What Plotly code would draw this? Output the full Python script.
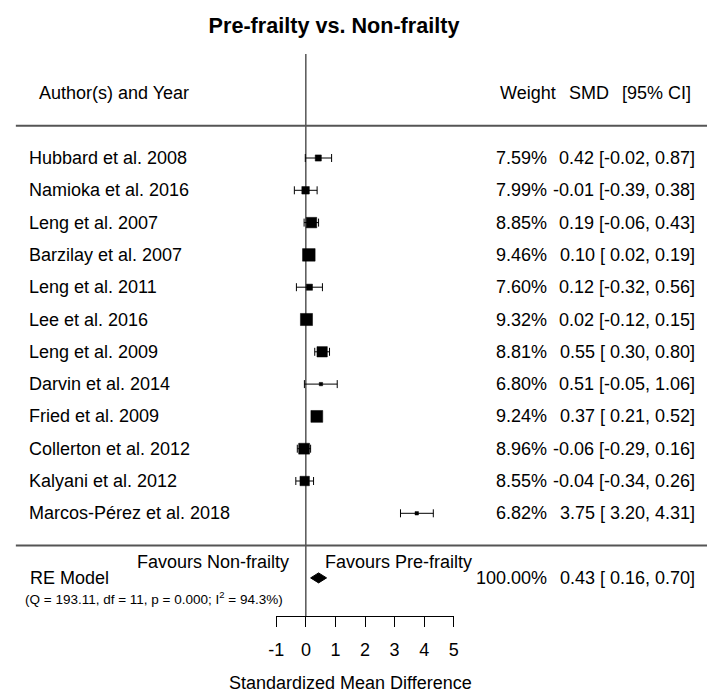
import plotly.graph_objects as go

# ---------------- data ----------------
studies = ["Hubbard et al. 2008", "Namioka et al. 2016", "Leng et al. 2007",
           "Barzilay et al. 2007", "Leng et al. 2011", "Lee et al. 2016",
           "Leng et al. 2009", "Darvin et al. 2014", "Fried et al. 2009",
           "Collerton et al. 2012", "Kalyani et al. 2012", "Marcos-Pérez et al. 2018"]
weights = [7.59, 7.99, 8.85, 9.46, 7.60, 9.32, 8.81, 6.80, 9.24, 8.96, 8.55, 6.82]
smd = [0.42, -0.01, 0.19, 0.10, 0.12, 0.02, 0.55, 0.51, 0.37, -0.06, -0.04, 3.75]
ci_low = [-0.02, -0.39, -0.06, 0.02, -0.32, -0.12, 0.30, -0.05, 0.21, -0.29, -0.34, 3.20]
ci_high = [0.87, 0.38, 0.43, 0.19, 0.56, 0.15, 0.80, 1.06, 0.52, 0.16, 0.26, 4.31]

re_label = "RE Model"
re_weight = 100.00
re_est = 0.43
re_low = 0.16
re_high = 0.70
re_stats = "(Q = 193.11, df = 11, p = 0.000; I<sup>2</sup> = 94.3%)"

tick_vals = [-1, 0, 1, 2, 3, 4, 5]
tick_labels = ["-1", "0", "1", "2", "3", "4", "5"]

title = "Pre-frailty vs. Non-frailty"
x_title = "Standardized Mean Difference"
left_header = "Author(s) and Year"
favours_left = "Favours Non-frailty"
favours_right = "Favours Pre-frailty"

# ---------------- layout helpers ----------------
W, H = 712, 697
FONT = "Liberation Sans, Arial, Helvetica, sans-serif"
FS = 18
ROW0_PX, ROW_PX = 158.0, 32.3   # pixel centre of first row, row spacing


def px(xp):
    return xp / W


def ypaper(yp):
    return 1 - yp / H


rows = list(range(len(studies)))
re_row = len(studies) + 1

wmin, wmax = min(weights), max(weights)
sizes = [3.4 + (w - wmin) / (wmax - wmin) * 9.2 for w in weights]

fig = go.Figure()

# confidence intervals (error bars only)
fig.add_trace(go.Scatter(
    x=smd, y=rows, mode="markers",
    marker=dict(size=1, color="rgba(0,0,0,0)", opacity=1),
    error_x=dict(type="data", symmetric=False,
                 array=[h - e for h, e in zip(ci_high, smd)],
                 arrayminus=[e - l for e, l in zip(smd, ci_low)],
                 color="black", thickness=1, width=4),
    showlegend=False, hoverinfo="skip", cliponaxis=False,
))

# study point estimates (squares on top of the CI lines)
fig.add_trace(go.Scatter(
    x=smd, y=rows, mode="markers",
    marker=dict(symbol="square", size=sizes, color="black", opacity=1,
                line=dict(width=0.5, color="black")),
    showlegend=False, hoverinfo="skip", cliponaxis=False,
))

# RE model diamond
dh = 5 / ROW_PX
fig.add_trace(go.Scatter(
    x=[re_low, re_est, re_high, re_est, re_low],
    y=[re_row, re_row - dh, re_row, re_row + dh, re_row],
    mode="lines", fill="toself", fillcolor="black",
    line=dict(color="black", width=1), showlegend=False, hoverinfo="skip",
    cliponaxis=False,
))

annotations = []


def txt(text, xp, row, anchor, size=FS):
    annotations.append(dict(
        text=text,
        x=px(xp), xref="paper", y=row, yref="y",
        xanchor=anchor, yanchor="middle", showarrow=False,
        font=dict(family=FONT, size=size, color="black"),
    ))


# headers
txt(left_header, 30, -2, "left")
txt("Weight", 560, -2, "right")
txt("SMD", 569, -2, "left")
txt("[95% CI]", 698, -2, "right")

# study rows
for r, s, w, e, lo, hi in zip(rows, studies, weights, smd, ci_low, ci_high):
    txt(s, 19, r, "left")
    txt(f"{w:.2f}%", 551, r, "right")
    txt(f"{e:.2f} [{lo:5.2f}, {hi:.2f}]".replace("[ ", "[\u00a0"), 702, r, "right")

# RE row
txt(favours_left, 288, re_row - 0.5, "right")
txt(favours_right, 321, re_row - 0.5, "left")
txt(re_label, 20, re_row, "left")
txt(f"{re_weight:.2f}%", 551, re_row, "right")
txt(f"{re_est:.2f} [{re_low:5.2f}, {re_high:.2f}]".replace("[ ", "[\u00a0"), 702, re_row, "right")
txt(re_stats, 15, re_row + 0.63, "left", size=13.5)

# axis title
annotations.append(dict(
    text=x_title, x=1.5, xref="x", y=ypaper(683), yref="paper",
    xanchor="center", yanchor="middle", showarrow=False,
    font=dict(family=FONT, size=FS, color="black"),
))

shapes = [
    # vertical reference line at 0
    dict(type="line", xref="x", yref="paper", x0=0, x1=0,
         y0=ypaper(54), y1=ypaper(616), line=dict(color="black", width=1)),
    # horizontal separators
    dict(type="line", xref="paper", yref="y", x0=px(8), x1=1, y0=-1, y1=-1,
         line=dict(color="#555555", width=2)),
    dict(type="line", xref="paper", yref="y", x0=px(8), x1=1,
         y0=len(studies), y1=len(studies),
         line=dict(color="#555555", width=2)),
]

y_top = -ROW0_PX / ROW_PX
y_bot = (H - ROW0_PX) / ROW_PX

fig.update_layout(
    width=W, height=H,
    margin=dict(l=0, r=0, t=0, b=0),
    paper_bgcolor="white", plot_bgcolor="white",
    title=dict(text=f"<b>{title}</b>", x=px(334), xanchor="center",
               y=ypaper(25), yanchor="middle",
               font=dict(family=FONT, size=21.6, color="black")),
    xaxis=dict(domain=[px(273.3), px(454)], range=[-1, 5],
               anchor="free", position=ypaper(616),
               showline=True, linecolor="black", linewidth=1,
               ticks="outside", ticklen=10, tickwidth=1, tickcolor="black",
               ticklabelstandoff=7,
               tickvals=tick_vals, ticktext=tick_labels,
               tickfont=dict(family=FONT, size=FS, color="black"),
               showgrid=False, zeroline=False, fixedrange=True),
    yaxis=dict(domain=[0, 1], range=[y_bot, y_top], visible=False,
               showgrid=False, zeroline=False, fixedrange=True),
    annotations=annotations,
    shapes=shapes,
    font=dict(family=FONT, color="black"),
)

fig.write_html(
    "out.html",
    config={"displayModeBar": False},
    post_script="document.body.style.margin='0';document.body.style.overflow='hidden';",
)
